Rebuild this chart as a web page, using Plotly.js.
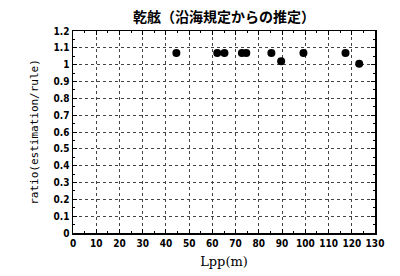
<!DOCTYPE html>
<html><head><meta charset="utf-8">
<script src="https://cdn.plot.ly/plotly-3.0.1.min.js"></script>
<style>html,body{margin:0;padding:0;background:#fff}#c{width:400px;height:276px}</style>
</head><body><div id="c"></div>
<script>
const lpp = [44.5, 62.1, 65.2, 72.7, 74.6, 85.4, 89.6, 99.2, 117.3, 123.2];
const ratio = [1.07, 1.07, 1.07, 1.07, 1.07, 1.07, 1.02, 1.07, 1.07, 1.005];
const xTicks = [0,10,20,30,40,50,60,70,80,90,100,110,120,130];
const yTicks = [0,0.1,0.2,0.3,0.4,0.5,0.6,0.7,0.8,0.9,1,1.1,1.2];
const yTickText = ["0","0.1","0.2","0.3","0.4","0.5","0.6","0.7","0.8","0.9","1","1.1","1.2"];
const titleText = "乾舷（沿海規定からの推定）";
const tickFont = {family: "Liberation Sans Narrow, DejaVu Sans Condensed, sans-serif", size: 10, color: "#000", weight: "bold"};
const axisCommon = {
  showline: true, linecolor: "#000", linewidth: 1.5, mirror: "ticks",
  ticks: "inside", ticklen: 4, tickcolor: "#000", tickwidth: 1,
  showgrid: true, gridcolor: "#444", griddash: "dot", gridwidth: 1,
  zeroline: false, tickfont: tickFont
};
Plotly.newPlot("c", [{
  x: lpp, y: ratio, type: "scatter", mode: "markers",
  marker: {color: "#000", size: 8}
}], {
  width: 400, height: 276,
  margin: {l: 73, r: 25, t: 31, b: 43},
  paper_bgcolor: "#fff", plot_bgcolor: "#fff",
  showlegend: false,
  title: {text: titleText, x: 0.56, xanchor: "center", yref: "container", y: 0.937, yanchor: "middle",
    font: {family: "Noto Sans CJK JP", size: 14, color: "#000", weight: "bold"}},
  xaxis: Object.assign({}, axisCommon, {
    range: [0, 130], tickvals: xTicks, ticktext: xTicks.map(String),
    minor: {ticks: "inside", ticklen: 2, dtick: 5, tickcolor: "#000", showgrid: false},
    title: {text: "Lpp(m)", standoff: 9, font: {family: "DejaVu Serif, serif", size: 13, color: "#000"}}
  }),
  yaxis: Object.assign({}, axisCommon, {
    range: [0, 1.2], tickvals: yTicks, ticktext: yTickText,
    minor: {ticks: "inside", ticklen: 2, dtick: 0.05, tickcolor: "#000", showgrid: false},
    title: {text: "ratio(estimation/rule)", standoff: 12, font: {family: "DejaVu Sans Mono, monospace", size: 11, color: "#000"}}
  })
}, {displayModeBar: false, staticPlot: true});
</script></body></html>
